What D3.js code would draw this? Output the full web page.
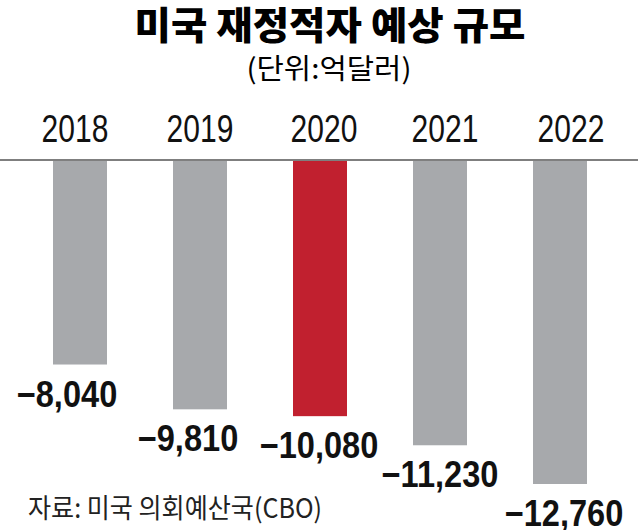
<!DOCTYPE html>
<html>
<head>
<meta charset="utf-8">
<script src="https://cdn.jsdelivr.net/npm/d3@7"></script>
<style>
  html, body { margin: 0; padding: 0; background: #fff; }
  svg { display: block; }
</style>
</head>
<body>
<script>
const years = ["2018", "2019", "2020", "2021", "2022"];
const deficits = [-8040, -9810, -10080, -11230, -12760];
const highlightYear = "2020";
const titleText = "미국 재정적자 예상 규모";
const unitText = "(단위:억달러)";
const sourceText = "자료: 미국 의회예산국(CBO)";

const W = 638, H = 530;
const svg = d3.select("body").append("svg").attr("width", W).attr("height", H);

const x = d3.scaleBand().domain(years).range([20, 620]).paddingInner(0.55).paddingOuter(0.275);
const y = d3.scaleLinear().domain([0, d3.max(deficits, d => -d)]).range([161, 484]);

const grey = "#a7a9ac", red = "#c1202f";
const kr = "'Noto Sans CJK KR', 'Noto Sans', sans-serif";
const num = "'Liberation Sans', Arial, sans-serif";

function fit(sel, w) {
  sel.each(function(){ this.setAttribute("textLength", w); this.setAttribute("lengthAdjust", "spacingAndGlyphs"); });
}
function condense(sel, k) {
  sel.each(function(){ const n = this.getComputedTextLength(); this.setAttribute("textLength", n * k); this.setAttribute("lengthAdjust", "spacingAndGlyphs"); });
}

// title
svg.append("text").attr("x", 330).attr("y", 39).attr("text-anchor", "middle")
  .style("font-family", kr).style("font-weight", 900).style("font-size", "38px")
  .text(titleText).call(fit, 391);
svg.append("text").attr("x", 329).attr("y", 79).attr("text-anchor", "middle")
  .style("font-family", kr).style("font-weight", 400).style("font-size", "28px")
  .text(unitText).call(fit, 165);

// year labels (top axis)
const yearShift = [-5, 0, 4, 5, 11];
svg.append("g").selectAll("text").data(years).join("text")
  .attr("x", (d, i) => x(d) + x.bandwidth() / 2 + yearShift[i])
  .attr("y", 142).attr("text-anchor", "middle")
  .style("font-family", num).style("font-size", "39px").style("fill", "#111")
  .text(d => d).call(condense, 0.77);

// bars
svg.append("g").selectAll("rect").data(deficits).join("rect")
  .attr("x", (d, i) => x(years[i]))
  .attr("y", y(0))
  .attr("width", x.bandwidth())
  .attr("height", d => y(-d) - y(0))
  .attr("fill", (d, i) => years[i] === highlightYear ? red : grey);

// baseline
svg.append("line").attr("x1", 0).attr("x2", W).attr("y1", 160).attr("y2", 160)
  .attr("stroke", "#555").attr("stroke-width", 1.5);

// value labels
const fmt = d3.format(",");
const labelShift = [-13, -12, -1, 0, 4];
svg.append("g").selectAll("text").data(deficits).join("text")
  .attr("x", (d, i) => x(years[i]) + x.bandwidth() / 2 + labelShift[i])
  .attr("y", d => y(-d) + 42).attr("text-anchor", "middle")
  .style("font-family", num).style("font-weight", 700).style("font-size", "37px").style("fill", "#111")
  .text(d => fmt(d)).call(condense, 0.88);

// source
svg.append("text").attr("x", 28).attr("y", 518)
  .style("font-family", kr).style("font-size", "27px").style("fill", "#222")
  .text(sourceText).call(fit, 294);
</script>
</body>
</html>
